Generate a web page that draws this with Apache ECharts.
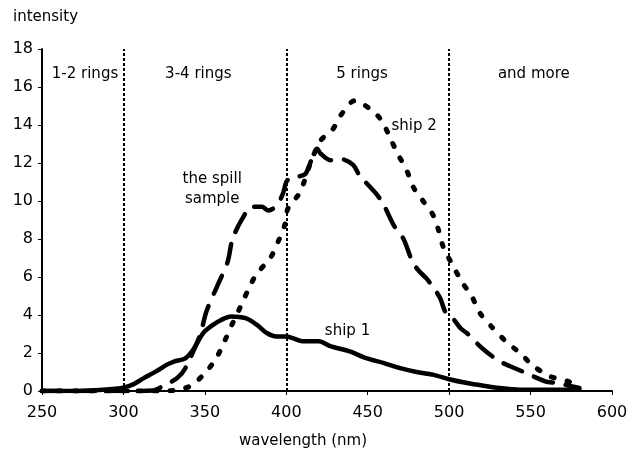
<!DOCTYPE html>
<html>
<head>
<meta charset="utf-8">
<script src="https://cdn.jsdelivr.net/npm/echarts@6/dist/echarts.min.js"></script>
<style>html,body{margin:0;padding:0;background:#fff}#c{width:633px;height:454px}</style>
</head>
<body>
<div id="c"></div>
<script>
// wavelength (nm) and intensity values
var ship1X = [250,270,285,295,300,306,312,320,327,331,338,343,349,355,360,366,375,382,388,394,400,404,410,420,427,439,449,460,470,480,490,500,511,521,531,541,555,580];
var ship1Y = [0,0,0.05,0.12,0.18,0.35,0.65,1.03,1.4,1.55,1.72,2.2,3.05,3.48,3.74,3.92,3.83,3.48,3.05,2.87,2.87,2.78,2.62,2.62,2.36,2.08,1.73,1.47,1.2,1.0,0.86,0.62,0.42,0.28,0.16,0.08,0.06,0.06];

var spillX = [250,300,318,325,333,338,347,351,358,364,367,373,379,385,389,394,398,400,403,408,412,419,421,427,434,441,445,456,460,466,472,477,481,486,490,494.5,497.5,500.5,502.5,507,511,518,524,531,537.5,545,559,566,580];
var spillY = [0,0,0.02,0.3,0.68,1.2,2.94,4.2,5.6,6.8,8.0,9.07,9.7,9.7,9.5,9.75,10.4,11.0,11.25,11.3,11.45,12.75,12.5,12.15,12.2,11.9,11.35,10.3,9.77,8.72,8.0,6.9,6.36,5.93,5.49,4.88,4.19,3.93,3.8,3.3,3.04,2.43,1.99,1.56,1.3,1.03,0.51,0.42,0.16];

var ship2X = [250,300,320,330,341,350,357,362,367,372,377,382,390,395,399,401,408.5,414,421,428,434,442,451.5,458.6,464,469,474,478,484,490,493.5,496.5,501.6,507.8,514,519,526,535,543.6,552,562,573,578];
var ship2Y = [0,0,0,0.02,0.26,0.94,1.73,2.6,3.56,4.46,5.4,6.19,6.97,7.86,8.72,9.6,10.47,11.8,13.18,13.7,14.58,15.28,14.84,14.23,13.27,12.39,11.6,10.73,10.0,9.28,8.46,7.55,6.71,5.75,4.96,4.09,3.39,2.6,1.99,1.3,0.77,0.51,0.26];

var regionBounds = [300, 400, 500];
var xTicks = {min: 250, max: 600, interval: 50};
var yTicks = {min: 0, max: 18, interval: 2};

// annotation texts with data-space anchors
var noteText = ['1-2 rings', '3-4 rings', '5 rings', 'and more', 'the spill\nsample', 'ship 2', 'ship 1'];
var noteX = [276.4, 346, 446.5, 552, 354.5, 478.5, 437.6];
var noteY = [16.7, 16.7, 16.7, 16.7, 10.65, 13.95, 3.15];

function pairs(xs, ys){ return xs.map(function(x,i){ return [x, ys[i]]; }); }

var FONT = 'DejaVu Sans';
var chart = echarts.init(document.getElementById('c'), null, {renderer:'canvas'});
var option = {
  animation: false,
  backgroundColor: '#fff',
  textStyle: {fontFamily: FONT, color: '#000'},
  grid: {left: 42, right: 21, top: 49, bottom: 61, containLabel: false},
  graphic: [{
    type: 'text', left: 13, top: 10,
    style: {text: 'intensity', font: '15px "DejaVu Sans"', fill: '#000'}
  }],
  xAxis: {
    type: 'value', min: xTicks.min, max: xTicks.max, interval: xTicks.interval,
    name: 'wavelength (nm)', nameLocation: 'middle', nameGap: 43,
    nameTextStyle: {fontFamily: FONT, fontSize: 15, color: '#000', padding: [0, 48, 0, 0]},
    axisLine: {lineStyle: {color: '#000', width: 2}},
    axisTick: {show: true, length: 4, lineStyle: {color: '#000', width: 1}},
    axisLabel: {fontFamily: FONT, fontSize: 16, color: '#000', margin: 14},
    splitLine: {show: false}
  },
  yAxis: {
    type: 'value', min: yTicks.min, max: yTicks.max, interval: yTicks.interval,
    axisLine: {show: true, lineStyle: {color: '#000', width: 2}},
    axisTick: {show: true, length: 4, lineStyle: {color: '#000', width: 1}},
    axisLabel: {fontFamily: FONT, fontSize: 16, color: '#000', margin: 9},
    splitLine: {show: false}
  },
  series: [
    {
      name: 'ship 1', type: 'line', data: pairs(ship1X, ship1Y),
      showSymbol: false, smooth: 0.3,
      lineStyle: {color: '#000', width: 4.5, cap: 'round', join: 'round'},
      markLine: {
        silent: true, symbol: 'none', label: {show: false},
        lineStyle: {color: '#000', width: 2, type: [3, 2]},
        data: regionBounds.map(function(v){ return {xAxis: v}; })
      },
      z: 3
    },
    {
      name: 'the spill sample', type: 'line', data: pairs(spillX, spillY),
      showSymbol: false, smooth: 0.3,
      lineStyle: {color: '#000', width: 4.5, type: [20, 13], cap: 'round', join: 'round'},
      z: 3
    },
    {
      name: 'ship 2', type: 'line', data: pairs(ship2X, ship2Y),
      showSymbol: false, smooth: 0.3,
      lineStyle: {color: '#000', width: 5, type: [3, 13], cap: 'round', join: 'round'},
      z: 3
    },
    {
      name: 'notes', type: 'scatter', symbolSize: 0,
      itemStyle: {opacity: 1},
      data: noteText.map(function(t,i){ return {value: [noteX[i], noteY[i]], name: t}; }),
      label: {
        show: true, position: 'inside', formatter: function(p){ return p.name; },
        fontFamily: FONT, fontSize: 15, color: '#000', opacity: 1, lineHeight: 20, align: 'center', verticalAlign: 'middle'
      },
      z: 5
    }
  ]
};
chart.setOption(option);
</script>
</body>
</html>
